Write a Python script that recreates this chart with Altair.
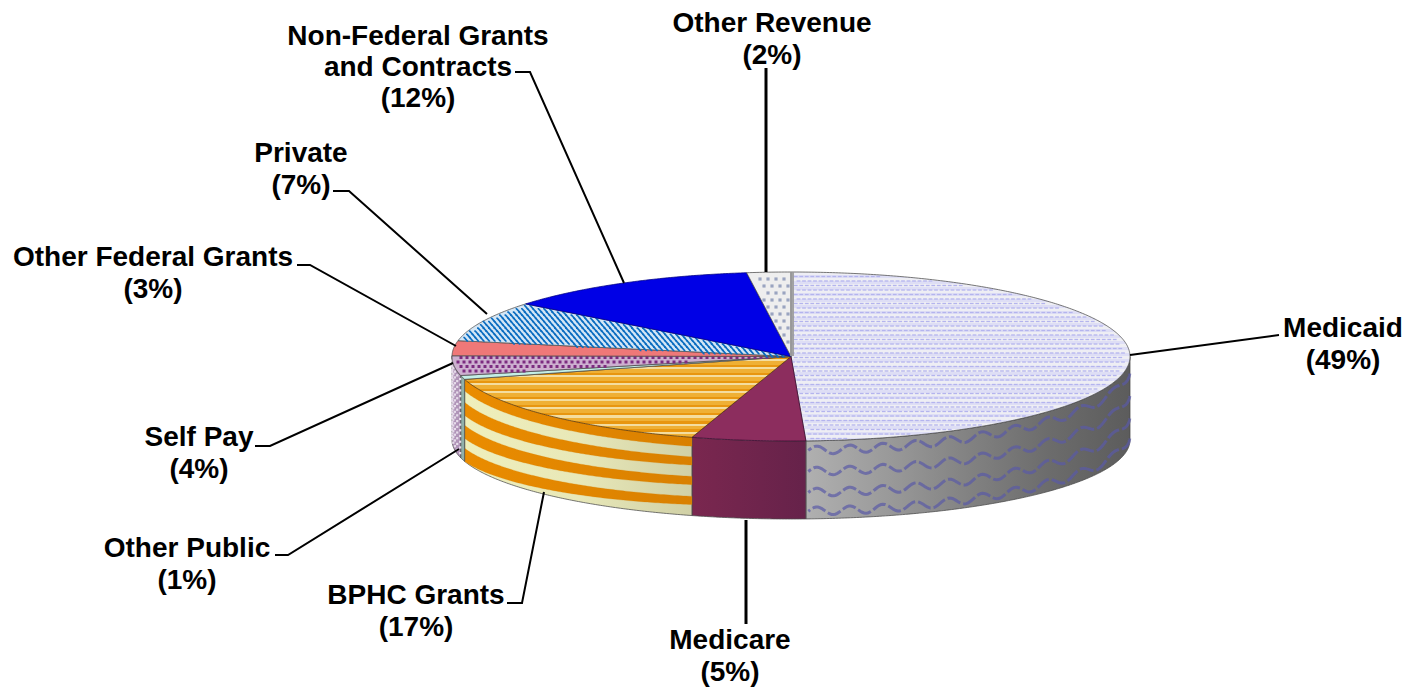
import math
import numpy as np
import pandas as pd
import altair as alt

# ---- data ----
names = ["Medicaid", "Medicare", "BPHC Grants", "Other Public", "Self Pay",
         "Other Federal Grants", "Private", "Non-Federal Grants\nand Contracts", "Other Revenue"]
label_pct = [49, 5, 17, 1, 4, 3, 7, 12, 2]
drawn_share = [49.3, 5.42, 15.92, 0.75, 3.75, 2.86, 7.69, 12.22, 2.09]

# ---- layout (image pixels) ----
CX, CY, A, B = 791, 356.5, 339, 84.5
BOT_CY, BOT_B = 440, 79
FONT = "Liberation Sans"
FS = 28
label_pos = [(1343, 327), (730, 639), (416, 594), (187, 547), (199, 436),
             (153, 256), (301, 152), (418, 35), (772, 22)]
leaders = [
    ([(1130, 355), (1279, 335)], 2),
    ([(746, 520), (746, 624)], 3),
    ([(507, 603), (522, 603), (544, 492)], 2),
    ([(275, 555), (288, 555), (459, 449)], 2),
    ([(255, 446), (270, 446), (453, 363)], 2),
    ([(297, 265), (310, 265), (456, 346)], 2),
    ([(333, 191), (349, 191), (487, 314)], 2),
    ([(515, 72), (530, 72), (624, 283)], 2),
    ([(766, 68), (766, 272)], 3),
]

X = alt.X("x:Q", scale=alt.Scale(domain=[8, 1406], nice=False, zero=False), axis=None)
Y = alt.Y("y:Q", scale=alt.Scale(domain=[688, 8], nice=False, zero=False), axis=None)

edges = np.cumsum([0] + drawn_share) * 3.6
span = {n: (edges[i], edges[i + 1]) for i, n in enumerate(names)}
keys = names


def top(t):
    r = np.radians(t)
    return CX + A * np.sin(r), CY - B * np.cos(r)


def bottom(t):
    r = np.radians(t)
    return CX + A * np.sin(r), BOT_CY - BOT_B * np.cos(r)


def arc(t1, t2):
    return np.linspace(t1, t2, max(3, int(abs(t2 - t1) * 2)))


def poly(xs, ys, fill, stroke="#4a4a4a", sw=1.0, so=0.75):
    df = pd.DataFrame({"x": xs, "y": ys, "i": range(len(xs))})
    return alt.Chart(df).mark_line(interpolate="linear-closed", fill=fill, stroke=stroke,
                                   strokeWidth=sw, strokeOpacity=so).encode(x=X, y=Y, order="i:Q")


def wedge(t1, t2, fill, **kw):
    xs, ys = top(arc(t1, t2))
    return poly([CX] + list(xs), [CY] + list(ys), fill, **kw)


def wall(t1, t2, fill, f1=(0.0, 0.0), f2=(1.0, 1.0), **kw):
    """f1, f2: depth fractions at t1 and at t2, so a band may drift along the wall."""
    ts = arc(t1, t2)
    xa, ya = top(ts)
    xb, yb = bottom(ts)
    w = (ts - t1) / (t2 - t1)
    y1 = ya + (yb - ya) * (f1[0] + (f1[1] - f1[0]) * w)
    y2 = ya + (yb - ya) * (f2[0] + (f2[1] - f2[0]) * w)
    return poly(list(xa) + list(xb[::-1]), list(y1) + list(y2[::-1]), fill, **kw)


def hgrad(stops):
    n = len(stops) - 1
    return alt.Gradient(gradient="linear", x1=0, x2=1, y1=0, y2=0,
                        stops=[alt.GradientStop(offset=i / n, color=c) for i, c in enumerate(stops)])


def stripes(n, bands):
    st = []
    for k in range(n):
        for lo, hi, c in bands:
            st.append(alt.GradientStop(offset=(k + lo) / n, color=c))
            st.append(alt.GradientStop(offset=(k + hi) / n, color=c))
    return alt.Gradient(gradient="linear", x1=0, x2=0, y1=0, y2=1, stops=st)


def lattice(t1, t2, dx, dy, stag=0.5, inset=0.985):
    out = []
    for j, y in enumerate(np.arange(CY - B, CY + B, dy)):
        off = (j % 2) * dx * stag
        for x in np.arange(CX - A + off, CX + A, dx):
            u, v = (x - CX) / A, (CY - y) / B
            if u * u + v * v > inset * inset:
                continue
            t = math.degrees(math.atan2(u, v)) % 360
            if t1 + 0.6 <= t <= t2 - 0.6:
                out.append((x, y))
    return pd.DataFrame(out, columns=["x", "y"])


def texture(df, shape, size, color, opacity=1.0):
    return alt.Chart(df).mark_point(shape=shape, size=size, filled=True, color=color,
                                    opacity=opacity, strokeWidth=0).encode(x=X, y=Y)


DASH = "M-1,-0.35L1,-0.35L1,0.35L-1,0.35Z"
SLASH = "M-1,-1L-0.45,-1L1,0.6L1,1L0.45,1L-1,-0.6Z"
layers = []

# ---- walls ----
t = span[keys[0]]
layers.append(wall(90, t[1], hgrad(["#b0b0b0", "#9a9a9a", "#828282", "#6c6c6c", "#5c5c5c"])))
for f in (0.12, 0.39, 0.66, 0.90):
    ts = np.linspace(92, t[1] - 0.4, 260)
    xa, ya = top(ts)
    xb, yb = bottom(ts)
    wave = ya + (yb - ya) * f + 4 * np.sin(xa / 33 * 2 * np.pi)
    layers.append(alt.Chart(pd.DataFrame({"x": xa, "y": wave, "i": range(len(xa))}))
                  .mark_line(color="#5a5aa6", strokeWidth=3, strokeOpacity=0.7, strokeDash=[14, 3])
                  .encode(x=X, y=Y, order="i:Q"))
t = span[keys[1]]
layers.append(wall(t[0], t[1], hgrad(["#7a274f", "#66224a"])))
t = span[keys[2]]
layers.append(wall(t[0], t[1], hgrad(["#efefbb", "#e8e8b8", "#d0d0a6"])))
# t runs from the right end of the BPHC wall to its left end
for f1, f2 in (((0.0, 0.0), (0.115, 0.14)), ((0.25, 0.28), (0.355, 0.44)),
               ((0.50, 0.56), (0.605, 0.72)), ((0.755, 0.84), (0.86, 1.0))):
    layers.append(wall(t[0], t[1], hgrad(["#ea8c00", "#d98000"]), f1, f2, stroke="#d98000", sw=0.5, so=0.5))
t = span[keys[3]]
layers.append(wall(t[0], t[1], "#8fb0aa"))
t = span[keys[4]]
layers.append(wall(t[0], t[1], "#b094b8"))
ts = np.linspace(t[0] + 0.4, t[1] - 0.4, 6)
xa, ya = top(ts)
xb, yb = bottom(ts)
rows = [(x, a + (b - a) * f) for x, a, b in zip(xa, ya, yb) for f in np.linspace(0.05, 0.95, 14)]
layers.append(texture(pd.DataFrame(rows, columns=["x", "y"]), "square", 5, "#e6dcea"))

# ---- top surface ----
t = span[keys[0]]
layers.append(wedge(t[0], t[1], stripes(28, [(0, 0.5, "#eeeef4"), (0.5, 1, "#dedef5")])))
layers.append(texture(lattice(t[0], t[1], 5.5, 4.5), DASH, 14, "#b4b4ee"))
t = span[keys[1]]
layers.append(wedge(t[0], t[1], "#8c2d5e", stroke="#3a0a30"))
t = span[keys[2]]
layers.append(wedge(t[0], t[1], stripes(10, [(0, 0.3, "#e8960f"), (0.3, 0.55, "#f4dd9f"), (0.55, 1, "#efb035")]),
                    stroke="#5a3a10"))
t = span[keys[3]]
layers.append(wedge(t[0], t[1], "#c4efe6"))
t = span[keys[4]]
layers.append(wedge(t[0], t[1], "#cdb0d0"))
layers.append(texture(lattice(t[0], t[1], 6, 4.5), "square", 9, "#7c2c80"))
t = span[keys[5]]
layers.append(wedge(t[0], t[1], "#ef7878"))
t = span[keys[6]]
layers.append(wedge(t[0], t[1], "#d3e6f6"))
layers.append(texture(lattice(t[0], t[1], 5.5, 3.2), SLASH, 24, "#0a6cc0"))
t = span[keys[7]]
layers.append(wedge(t[0], t[1], "#0000e6", stroke="#000080"))
t = span[keys[8]]
layers.append(wedge(t[0], t[1], "#eeeeee"))
layers.append(texture(lattice(t[0], t[1], 8, 7), "square", 10, "#9aa4c0"))
layers.append(alt.Chart(pd.DataFrame({"x": [792], "y": [272], "y2": [356]}))
              .mark_rule(color="#9a9a9a", strokeWidth=4, opacity=0.9)
              .encode(x=X, y=Y, y2="y2:Q"))

# ---- leader lines ----
for pts, w in leaders:
    d = pd.DataFrame({"x": [p[0] for p in pts], "y": [p[1] for p in pts], "i": range(len(pts))})
    layers.append(alt.Chart(d).mark_line(color="#000000", strokeWidth=w).encode(x=X, y=Y, order="i:Q"))

# ---- labels ----
rows = []
for n, p, (lx, ly) in zip(names, label_pct, label_pos):
    parts = n.split("\n") + [f"({p}%)"]
    step = 31 if len(parts) == 3 else 32
    for k, line in enumerate(parts):
        rows.append({"x": lx, "y": ly + 1.5 + k * step, "t": line})
layers.append(alt.Chart(pd.DataFrame(rows))
              .mark_text(font=FONT, fontSize=FS, fontWeight="bold", color="#000000",
                         align="center", baseline="middle")
              .encode(x=X, y=Y, text="t:N"))

chart = alt.layer(*layers).properties(
    width=1398, height=680, padding=0,
    autosize=alt.AutoSizeParams(type="none"),
    background="#ffffff",
).configure_view(strokeWidth=0)

chart.save("out.html", embed_options={"renderer": "svg", "actions": False})
